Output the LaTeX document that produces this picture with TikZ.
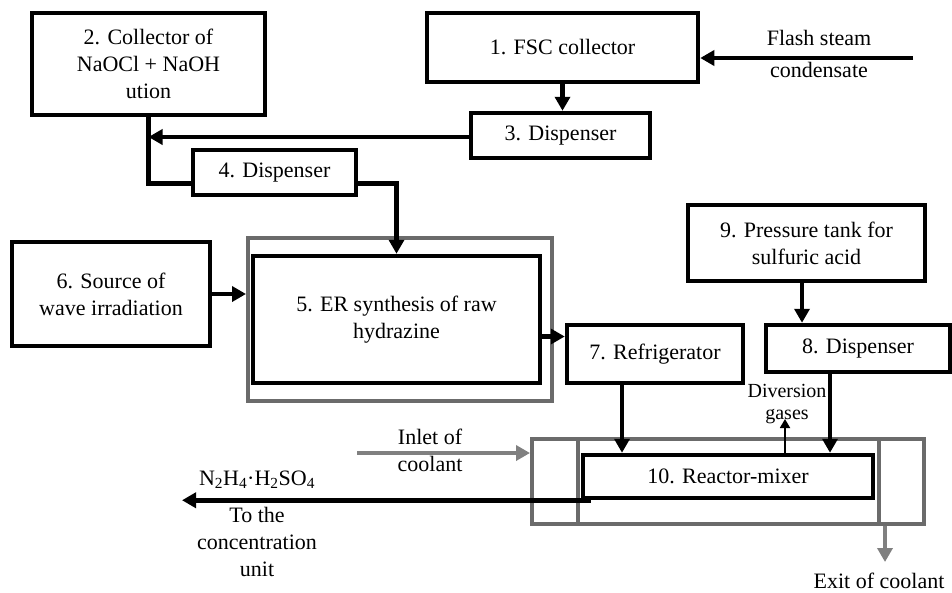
\documentclass[tikz,border=0pt]{standalone}
\usepackage{fontspec}
\setmainfont{Liberation Serif}
\usetikzlibrary{arrows.meta,positioning,calc}
\definecolor{ink}{HTML}{000000}
\definecolor{framegray}{HTML}{6B6B6B}
\definecolor{coolgray}{HTML}{808080}
\tikzset{
  unitbox/.style={draw=ink,line width=4.5pt,align=center,inner sep=2pt,
                  font=\fontsize{22}{27}\selectfont},
  shellbox/.style={draw=framegray,line width=4pt,inner sep=0pt},
  flowline/.style={line width=4.5pt,draw=ink},
  flowarr/.style={-{Triangle[length=14pt,width=15pt]},line width=4.5pt,draw=ink},
  coolarr/.style={-{Triangle[length=14pt,width=15pt]},line width=4pt,draw=coolgray},
  gasarr/.style={-{Triangle[length=9pt,width=10pt]},line width=1.8pt,draw=ink},
  note/.style={align=center,inner sep=0pt,font=\fontsize{22}{27}\selectfont},
  smallnote/.style={align=center,inner sep=0pt,font=\fontsize{20}{22}\selectfont}
}
\begin{document}
\begin{tikzpicture}[x=1pt,y=-1pt]
    \path[use as bounding box] (0,0) rectangle (952,592);
    \node[unitbox,minimum width=233pt,minimum height=102pt] (coll) at (148.5,64)
      {2. Collector of\\NaOCl + NaOH\\ution};
    \node[unitbox,minimum width=271pt,minimum height=69pt] (fsc) at (562.5,47.5)
      {1. FSC collector};
    \node[unitbox,minimum width=179pt,minimum height=45pt] (disp3) at (560.5,135.5)
      {3. Dispenser};
    \node[unitbox,minimum width=163pt,minimum height=45pt] (disp4) at (274.5,172.5)
      {4. Dispenser};
    \node[shellbox,minimum width=304pt,minimum height=163pt] (synframe) at (400,319.5) {};
    \node[unitbox,minimum width=287pt,minimum height=127pt] (syn) at (396.5,319.5)
      {5. ER synthesis of raw\\hydrazine};
    \node[unitbox,minimum width=198pt,minimum height=104pt] (src) at (111,294)
      {6. Source of\\wave irradiation};
    \node[unitbox,minimum width=237pt,minimum height=76pt] (tank) at (806.5,243)
      {9. Pressure tank for\\sulfuric acid};
    \node[unitbox,minimum width=176pt,minimum height=58pt] (ref) at (655,354)
      {7. Refrigerator};
    \node[unitbox,minimum width=184pt,minimum height=47pt] (disp8) at (858,348.5)
      {8. Dispenser};
    \node[shellbox,minimum width=392pt,minimum height=85pt] (reactor) at (728,481.5) {};
    \draw[shellbox] ([xshift=48pt]reactor.north west) -- ([xshift=48pt]reactor.south west);
    \draw[shellbox] ([xshift=-47pt]reactor.north east) -- ([xshift=-47pt]reactor.south east);
    \node[unitbox,minimum width=290pt,minimum height=43pt] (mixer) at (728,476.5)
      {10. Reactor-mixer};

    \coordinate (flashin) at (913,58);
    \node[note] (flashlbl) at (819,54) {Flash steam\\[5pt]condensate};
    \draw[flowarr] (flashin) -- (fsc.east |- flashin);
    \draw[flowarr] (fsc.south) -- (fsc.south |- disp3.north);
    \draw[flowarr] ([yshift=-1.5pt]disp3.west) -- ([yshift=-1.5pt]disp3.west -| coll.south);
    \draw[flowline] (coll.south) |- ([yshift=-11pt]disp4.west);
    \draw[flowarr] ([yshift=-11pt]disp4.east) -| (syn.north);
    \draw[flowarr] (src.east) -- (src.east -| synframe.west);
    \draw[flowarr] ([yshift=-17pt]syn.east) -- ([yshift=-17pt]syn.east -| ref.west);
    \draw[flowarr] ([xshift=-4.5pt]tank.south) -- ([xshift=-4.5pt]tank.south |- disp8.north);
    \draw[flowarr] ([xshift=-33pt]ref.south) -- ([xshift=-33pt]ref.south |- mixer.north);
    \draw[flowarr] ([xshift=-28pt]disp8.south) -- ([xshift=-28pt]disp8.south |- mixer.north);

    \coordinate (gasout) at (785,419);
    \node[smallnote] (gaslbl) at (787,404) {Diversion\\gases};
    \draw[gasarr] (mixer.north -| gasout) -- (gasout);

    \coordinate (prodend) at (182,498);
    \draw[flowarr] ([xshift=10pt]mixer.south west) -- (mixer.south west -| prodend);
    \node[note] (prodlbl) at (257,480)
      {N\textsubscript{2}H\textsubscript{4}·H\textsubscript{2}SO\textsubscript{4}};
    \node[note] (destlbl) at (257,542) {To the\\concentration\\unit};

    \coordinate (coolin) at (357,453);
    \node[note] (inletlbl) at (430,450) {Inlet of\\coolant};
    \draw[coolarr] (coolin) -- (coolin -| reactor.west);
    \coordinate (coolout) at (885,562);
    \draw[coolarr] (reactor.south -| coolout) -- (coolout);
    \node[note] (exitlbl) at (879,581) {Exit of coolant};
\end{tikzpicture}
\end{document}
